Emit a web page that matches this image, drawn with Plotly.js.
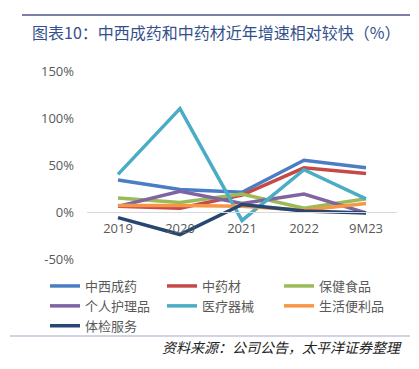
<!DOCTYPE html>
<html><head><meta charset="utf-8">
<script src="https://cdn.plot.ly/plotly-3.0.1.min.js"></script>
<style>html,body{margin:0;padding:0;background:#fff;}#chart{width:419px;height:369px;}</style>
</head><body><div id="chart"></div>
<script>
const categories = ['2019', '2020', '2021', '2022', '9M23'];
const seriesNames = ['中西成药', '中药材', '保健食品', '个人护理品', '医疗器械', '生活便利品', '体检服务'];
const zhongxiChengyao = [34, 24, 21, 55, 47];
const zhongyaocai = [6, 4, 18, 47, 41];
const baojianShipin = [15, 10, 19, 4, 14];
const gerenHuli = [6, 22, 9, 19, -1];
const yiliaoQixie = [40, 110, -9, 45, 14];
const shenghuoBianli = [7, 7, 6, 2, 9];
const tijianFuwu = [-6, -24, 8, 1, -1];
const seriesValues = [zhongxiChengyao, zhongyaocai, baojianShipin, gerenHuli, yiliaoQixie, shenghuoBianli, tijianFuwu];
const colors = ['#4a7dc4', '#c44a48', '#9bbb59', '#8064a2', '#4bacc6', '#f79646', '#254772'];
const yTicks = [-50, 0, 50, 100, 150];

const W = 419, H = 369, L = 87, R = 22, T = 71, B = 110;
const pw = W - L - R, ph = H - T - B;
const px = x => (x - L) / pw;
const py = y => (H - B - y) / ph;

const traces = seriesNames.map((n, i) => ({
  type: 'scatter', mode: 'lines', name: n, x: categories, y: seriesValues[i],
  line: {color: colors[i], width: 3.5}, hoverinfo: 'skip'
}));

const cjk = '"Noto Sans CJK SC", sans-serif';
const layout = {
  width: W, height: H,
  margin: {l: L, r: R, t: T, b: B, autoexpand: false},
  paper_bgcolor: '#fff', plot_bgcolor: '#fff',
  showlegend: true,
  title: {text: '图表10：中西成药和中药材近年增速相对较快（%）', xref: 'container', yref: 'container',
    x: 32 / W, xanchor: 'left', y: 1 - 33 / H, yanchor: 'middle',
    font: {family: cjk, size: 16, color: '#34508c'}},
  xaxis: {type: 'category', range: [-0.5, 4.5], anchor: 'free', position: py(212),
    showline: true, linecolor: '#d9d9d9', linewidth: 1, showgrid: false, zeroline: false,
    ticks: '', ticklabelstandoff: 4,
    tickfont: {family: 'Open Sans, sans-serif', size: 13, color: '#595959'}},
  yaxis: {range: [-50, 150], tickvals: yTicks, ticktext: yTicks.map(v => v + '%'),
    showgrid: false, zeroline: false, showline: false, ticks: '', ticklabelstandoff: 12,
    tickfont: {family: 'Open Sans, sans-serif', size: 13, color: '#595959'}},
  legend: {orientation: 'h', x: px(45), xanchor: 'left', y: py(271), yanchor: 'top',
    entrywidth: 72, entrywidthmode: 'pixels', tracegroupgap: 0, itemwidth: 30,
    font: {family: cjk, size: 13, color: '#595959'}, bgcolor: 'rgba(0,0,0,0)'},
  shapes: [
    {type: 'line', xref: 'paper', yref: 'paper', x0: px(22), x1: px(410), y0: py(15), y1: py(15),
      line: {color: '#7b7ea8', width: 2}},
    {type: 'line', xref: 'paper', yref: 'paper', x0: px(10), x1: px(410), y0: py(336), y1: py(336),
      line: {color: '#c5c5dc', width: 1.5}}
  ],
  annotations: [
    {text: '资料来源：公司公告，太平洋证券整理', xref: 'paper', yref: 'paper', x: px(404), y: py(347),
      xanchor: 'right', yanchor: 'middle', showarrow: false,
      font: {family: cjk, size: 14, color: '#222', style: 'italic'}}
  ]
};
Plotly.newPlot('chart', traces, layout, {displayModeBar: false, staticPlot: true});
</script></body></html>
